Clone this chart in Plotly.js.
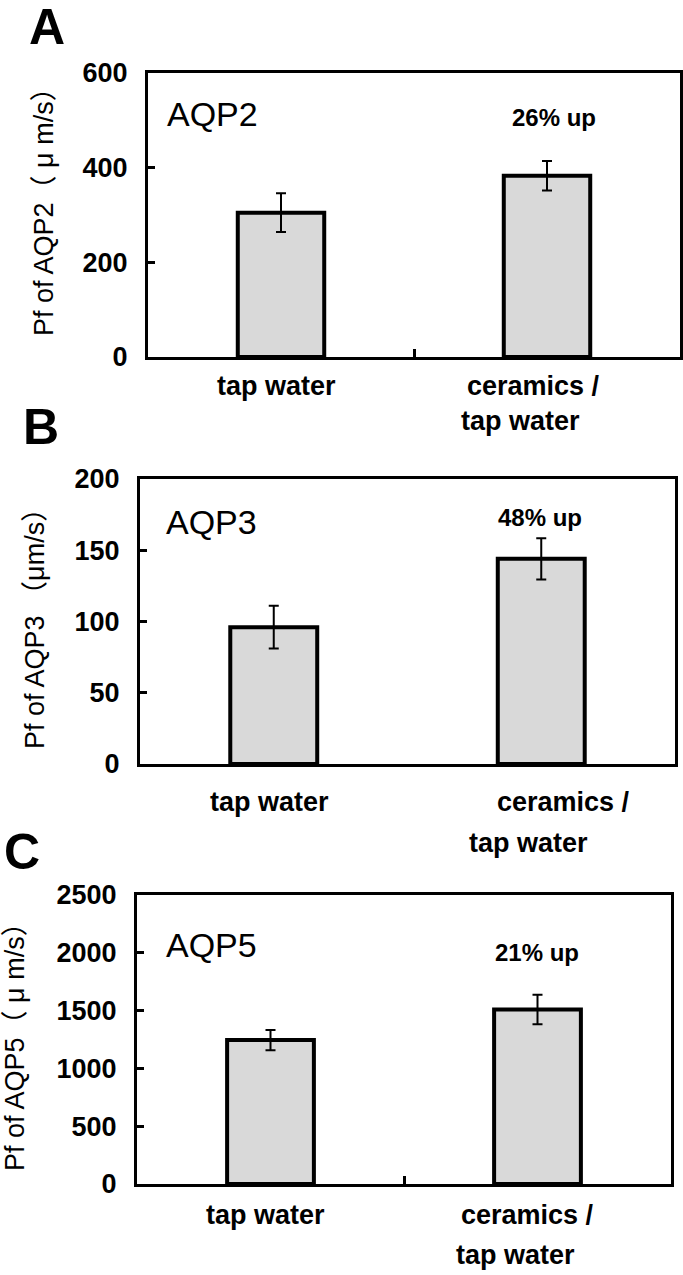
<!DOCTYPE html>
<html>
<head>
<meta charset="utf-8">
<script src="https://cdn.plot.ly/plotly-3.0.1.min.js"></script>
<style>html,body{margin:0;padding:0;background:#fff;}#chart{width:683px;height:1275px;}</style>
</head>
<body>
<div id="chart"></div>
<script>
// ---- data ----
const categories = ["tap water", "ceramics / tap water"];
const xLabelLines = [["tap water"], ["ceramics /", "tap water"]];
const aqp2Mean = [305, 383];
const aqp2Err = [41, 31];
const aqp3Mean = [96, 144];
const aqp3Err = [15, 14.5];
const aqp5Mean = [1245, 1510];
const aqp5Err = [88, 127];
const yMax = [600, 200, 2500];
const yDtick = [200, 50, 500];
const panelLetters = ["A", "B", "C"];
const proteinNames = ["AQP2", "AQP3", "AQP5"];
const increaseLabels = ["26% up", "48% up", "21% up"];
const yTitles = ["Pf of AQP2（ μ m/s）", "Pf of AQP3 （μm/s）", "Pf of AQP5（ μ m/s）"];

const means = [aqp2Mean, aqp3Mean, aqp5Mean];
const errs = [aqp2Err, aqp3Err, aqp5Err];

// ---- geometry (pixels) ----
const W = 683, H = 1275;
const px = x => x / W;
const py = y => 1 - y / H;
const geom = [
  {box: [148, 680, 73, 357], letter: [47, 27], name: [212, 114], inc: [554, 118], ytitle: [44, 205],
   xl1: 386, xl2: 421, shifts: [[-5], [-14, -27]], midTick: true},
  {box: [140, 675, 479, 764], letter: [41, 427], name: [211, 522], inc: [540, 517], ytitle: [35, 622],
   xl1: 802, xl2: 843, shifts: [[-4], [22, -13]], midTick: false},
  {box: [137, 671, 895, 1184], letter: [22, 852], name: [211, 945], inc: [537, 952], ytitle: [15, 1040],
   xl1: 1215, xl2: 1255, shifts: [[-5], [-10, -22]], midTick: true}
];

const FONT = "Liberation Sans, Arial, Noto Sans CJK JP, sans-serif";
const traces = [];
const layout = {
  width: W, height: H,
  margin: {l: 0, r: 0, t: 0, b: 0},
  paper_bgcolor: "#ffffff", plot_bgcolor: "#ffffff",
  showlegend: false,
  bargap: 0,
  font: {family: FONT, color: "#000"},
  annotations: []
};

for (let i = 0; i < 3; i++) {
  const g = geom[i];
  const sfx = i === 0 ? "" : String(i + 1);
  const xa = "x" + sfx, ya = "y" + sfx;
  traces.push({
    type: "bar",
    x: categories,
    y: means[i],
    xaxis: xa, yaxis: ya,
    width: 0.325,
    marker: {color: "#d9d9d9", line: {color: "#000", width: 4}},
    error_y: {type: "data", array: errs[i], visible: true, color: "#000", thickness: 2, width: 5},
    hoverinfo: "skip"
  });
  layout["xaxis" + sfx] = {
    domain: [px(g.box[0]), px(g.box[1])],
    anchor: ya,
    type: "category",
    range: [-0.5, 1.5],
    showline: true, mirror: true, linecolor: "#000", linewidth: 3,
    showgrid: false, zeroline: false,
    showticklabels: false,
    ticks: g.midTick ? "inside" : "",
    tickson: "boundaries",
    ticklen: 8, tickwidth: 3, tickcolor: "#000",
    fixedrange: true
  };
  layout["yaxis" + sfx] = {
    domain: [py(g.box[3]), py(g.box[2])],
    anchor: xa,
    range: [0, yMax[i]],
    dtick: yDtick[i], tick0: 0,
    showline: true, mirror: true, linecolor: "#000", linewidth: 3,
    showgrid: false, zeroline: false,
    ticks: "inside", ticklen: 7, tickwidth: 3, tickcolor: "#000",
    ticklabelstandoff: 12,
    tickfont: {family: FONT, size: 27, weight: 700, color: "#000"},
    fixedrange: true
  };
  const ann = layout.annotations;
  ann.push({xref: "paper", yref: "paper", x: px(g.letter[0]), y: py(g.letter[1]),
    xanchor: "center", yanchor: "middle", showarrow: false, text: panelLetters[i],
    font: {family: FONT, size: 50, weight: 700, color: "#000"}});
  ann.push({xref: "paper", yref: "paper", x: px(g.name[0]), y: py(g.name[1]),
    xanchor: "center", yanchor: "middle", showarrow: false, text: proteinNames[i],
    font: {family: FONT, size: 34, color: "#000"}});
  ann.push({xref: "paper", yref: "paper", x: px(g.inc[0]), y: py(g.inc[1]),
    xanchor: "center", yanchor: "middle", showarrow: false, text: increaseLabels[i],
    font: {family: FONT, size: 24, weight: 700, color: "#000"}});
  ann.push({xref: "paper", yref: "paper", x: px(g.ytitle[0]), y: py(g.ytitle[1]),
    xanchor: "center", yanchor: "middle", showarrow: false, text: yTitles[i], textangle: -90,
    font: {family: FONT, size: 27, color: "#000"}});
  for (let c = 0; c < categories.length; c++) {
    xLabelLines[c].forEach((line, j) => {
      ann.push({xref: xa, yref: "paper", x: categories[c], y: py(j === 0 ? g.xl1 : g.xl2),
        xanchor: "center", yanchor: "middle", xshift: g.shifts[c][j], showarrow: false, text: line,
        font: {family: FONT, size: 27, weight: 700, color: "#000"}});
    });
  }
}

Plotly.newPlot("chart", traces, layout, {displayModeBar: false, staticPlot: true});
</script>
</body>
</html>
